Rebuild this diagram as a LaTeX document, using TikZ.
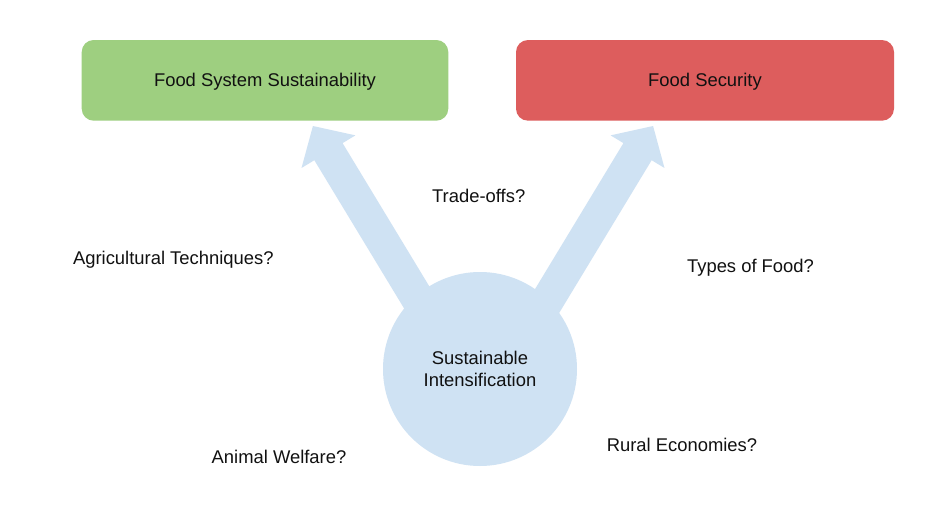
\documentclass[tikz,border=0pt]{standalone}
\usepackage{fontspec}
\setmainfont{Liberation Sans}
\usetikzlibrary{calc}
\definecolor{boxgreen}{HTML}{9ECF80}
\definecolor{boxred}{HTML}{DD5D5D}
\definecolor{siblue}{HTML}{CFE2F3}
\definecolor{txt}{HTML}{111111}
\tikzset{
  goalbox/.style={rounded corners=12pt, minimum width=#1, minimum height=80.7pt,
    inner sep=0pt, text height=13pt, text depth=0pt, text=txt,
    font=\fontsize{18.4}{21.7}\selectfont},
  hub/.style={circle, fill=siblue, minimum size=194pt, inner sep=0pt, align=center,
    text=txt, font=\fontsize{18.4}{21.7}\selectfont},
  question/.style={anchor=base, inner sep=0pt, text=txt,
    font=\fontsize{18.4}{21.7}\selectfont},
  blockarrow/.style={fill=siblue}
}
\begin{document}
\begin{tikzpicture}[x=1pt, y=-1pt]
  \fill[white] (0,0) rectangle (943,514);
  \useasboundingbox (0,0) rectangle (943,514);

  % goal boxes
  \node[goalbox=366.6pt, fill=boxgreen] (fss) at (265,80.35) {Food System Sustainability};
  \node[goalbox=378pt, fill=boxred] (fs) at (705,80.35) {Food Security};

  % block arrows (drawn under the hub)
  \coordinate (baseL) at (447.6,348.4);
  \coordinate (baseR) at (518.4,348.4);
  \begin{scope}[shift={(baseL)}, rotate=121.2]
    \fill[blockarrow] (0,-16.5) -- (230,-16.5) -- (230,-31.5) -- (260,0)
      -- (230,31.5) -- (230,16.5) -- (0,16.5) -- cycle;
  \end{scope}
  \begin{scope}[shift={(baseR)}, rotate=58.8]
    \fill[blockarrow] (0,-16.5) -- (230,-16.5) -- (230,-31.5) -- (260,0)
      -- (230,31.5) -- (230,16.5) -- (0,16.5) -- cycle;
  \end{scope}

  % hub
  \node[hub] (si) at (480,369) {Sustainable\\Intensification};

  % questions
  \node[question] (trade) at (478.7,202.3) {Trade-offs?};
  \node[question] (agri) at (173.3,264.3) {Agricultural Techniques?};
  \node[question] (types) at (750.5,272.3) {Types of Food?};
  \node[question] (rural) at (682,451) {Rural Economies?};
  \node[question] (animal) at (279,463.3) {Animal Welfare?};
\end{tikzpicture}
\end{document}
